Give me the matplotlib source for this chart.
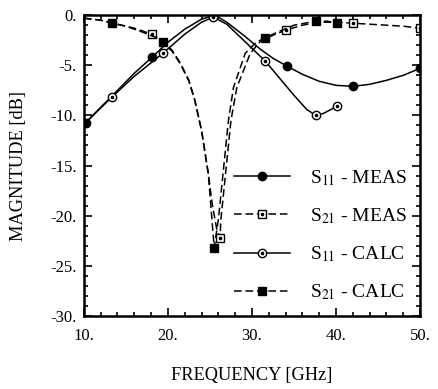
import matplotlib
matplotlib.use("Agg")
import matplotlib.pyplot as plt
from matplotlib.ticker import MultipleLocator, FuncFormatter

# --- curve data (frequency GHz, magnitude dB) ---
s11_meas_f = [10, 12, 14, 16, 18.1, 20, 22, 24, 25.6, 27, 29, 31, 32.5, 34.2, 36, 38, 40, 42, 44, 46, 48, 50]
s11_meas_db = [-10.9, -9.2, -7.5, -5.8, -4.2, -2.7, -1.4, -0.4, 0.0, -0.7, -2.0, -3.4, -4.3, -5.1, -5.9, -6.6, -7.0, -7.1, -6.9, -6.5, -6.0, -5.3]
s11_meas_mf = [10.2, 18.1, 34.2, 42.0, 50.0]
s11_meas_mdb = [-10.8, -4.2, -5.1, -7.1, -5.3]

s21_meas_f = [10, 12, 14, 16, 18.1, 19.4, 20.5, 21.5, 22.5, 23.2, 24.0, 24.8, 25.3, 25.8, 26.2, 26.3, 26.7, 27.1, 27.5, 28.2, 29.8, 31.0, 32.5, 34.0, 36, 38, 40, 42, 44, 46, 48, 50]
s21_meas_db = [-0.3, -0.5, -0.9, -1.3, -1.9, -2.6, -3.5, -4.8, -6.5, -8.5, -11.5, -15.8, -19.0, -21.3, -22.2, -20.4, -17.1, -13.8, -10.5, -7.2, -3.8, -2.6, -2.0, -1.5, -1.0, -0.7, -0.7, -0.8, -0.9, -1.0, -1.1, -1.3]
s21_meas_mf = [18.1, 26.2, 34.0, 42.0, 50.0]
s21_meas_mdb = [-1.9, -22.2, -1.5, -0.8, -1.3]

s11_calc_f = [10, 13.3, 16, 19.4, 22, 24, 25.4, 27, 29, 31.6, 33, 35, 36.5, 37.6, 38.5, 40.1]
s11_calc_db = [-10.9, -8.2, -6.1, -3.8, -1.9, -0.7, -0.2, -0.9, -2.5, -4.6, -6.0, -8.0, -9.4, -10.0, -9.8, -9.1]
s11_calc_mf = [13.3, 19.4, 25.4, 31.6, 37.6, 40.1]
s11_calc_mdb = [-8.2, -3.8, -0.2, -4.6, -10.0, -9.1]

s21_calc_f = [10, 12, 13.3, 15, 17, 18.5, 19.4, 20.5, 21.5, 22.5, 23.2, 24.0, 24.8, 25.2, 25.5, 26.0, 26.4, 26.8, 27.2, 27.8, 29.2, 30.5, 31.5, 33, 35, 37.6, 39, 40.1]
s21_calc_db = [-0.3, -0.5, -0.8, -1.1, -1.7, -2.2, -2.7, -3.6, -4.9, -6.6, -8.5, -11.5, -15.8, -20.0, -23.2, -20.4, -17.1, -13.8, -10.5, -7.2, -3.8, -2.7, -2.3, -1.7, -1.0, -0.6, -0.6, -0.8]
s21_calc_mf = [13.3, 19.4, 25.5, 31.5, 37.6, 40.1]
s21_calc_mdb = [-0.8, -2.7, -23.2, -2.3, -0.6, -0.8]

plt.rcParams["font.family"] = ["Liberation Serif", "DejaVu Serif"]
plt.rcParams["mathtext.fontset"] = "stix"

fig = plt.figure(figsize=(4.39, 3.89), dpi=100)
ax = fig.add_axes([0.191, 0.188, 0.766, 0.773])

dash = (0, (5, 2.5))
lw = 1.1
ms = 6

# S11 MEAS: solid, filled circles
ax.plot(s11_meas_f, s11_meas_db, color="black", lw=lw)
ax.plot(s11_meas_mf, s11_meas_mdb, ls="none", marker="o", ms=ms, color="black")
h1 = ax.plot([], [], color="black", lw=lw, marker="o", ms=ms)[0]

# S21 MEAS: dashed, open squares with centre dot
ax.plot(s21_meas_f, s21_meas_db, color="black", lw=lw, ls=dash)
ax.plot(s21_meas_mf, s21_meas_mdb, ls="none", marker="s", ms=ms, mfc="white", mec="black", mew=1.0)
ax.plot(s21_meas_mf, s21_meas_mdb, ls="none", marker="o", ms=1.6, color="black")
h2a = ax.plot([], [], color="black", lw=lw, ls=dash, marker="s", ms=ms, mfc="white", mec="black", mew=1.0)[0]
h2b = ax.plot([], [], ls="none", marker="o", ms=1.6, color="black")[0]

# S11 CALC: solid, open circles with centre dot
ax.plot(s11_calc_f, s11_calc_db, color="black", lw=lw)
ax.plot(s11_calc_mf, s11_calc_mdb, ls="none", marker="o", ms=ms, mfc="white", mec="black", mew=1.0)
ax.plot(s11_calc_mf, s11_calc_mdb, ls="none", marker="o", ms=1.6, color="black")
h3a = ax.plot([], [], color="black", lw=lw, marker="o", ms=ms, mfc="white", mec="black", mew=1.0)[0]
h3b = ax.plot([], [], ls="none", marker="o", ms=1.6, color="black")[0]

# S21 CALC: dashed, filled squares
ax.plot(s21_calc_f, s21_calc_db, color="black", lw=lw, ls=dash)
ax.plot(s21_calc_mf, s21_calc_mdb, ls="none", marker="s", ms=ms, color="black")
h4 = ax.plot([], [], color="black", lw=lw, ls=dash, marker="s", ms=ms)[0]

ax.set_xlim(10, 50)
ax.set_ylim(-30, 0)
ax.xaxis.set_major_locator(MultipleLocator(10))
ax.xaxis.set_minor_locator(MultipleLocator(2))
ax.yaxis.set_major_locator(MultipleLocator(5))
ax.yaxis.set_minor_locator(MultipleLocator(1))
fmt = FuncFormatter(lambda v, p: f"{v:.0f}.")
ax.xaxis.set_major_formatter(fmt)
ax.yaxis.set_major_formatter(fmt)
ax.tick_params(which="both", direction="in", top=True, right=True, labelsize=12, width=1.2)
ax.tick_params(which="major", length=6)
ax.tick_params(which="minor", length=3)
ax.tick_params(axis="x", which="major", pad=9)
ax.tick_params(axis="y", which="major", pad=5)
for sp in ax.spines.values():
    sp.set_linewidth(1.8)

ax.set_xlabel("FREQUENCY [GHz]", fontsize=13.2, labelpad=16)
ax.set_ylabel("MAGNITUDE [dB]", fontsize=13.2, labelpad=17)

ax.legend([h1, (h2a, h2b), (h3a, h3b), h4],
          ["S$_{11}$ - MEAS", "S$_{21}$ - MEAS", "S$_{11}$ - CALC", "S$_{21}$ - CALC"],
          loc="lower right", frameon=False, fontsize=14, numpoints=1,
          handlelength=2.9, handletextpad=1.0, labelspacing=0.95,
          bbox_to_anchor=(1.0, 0.0), borderaxespad=0.3)

fig.savefig("out.png", dpi=100)
